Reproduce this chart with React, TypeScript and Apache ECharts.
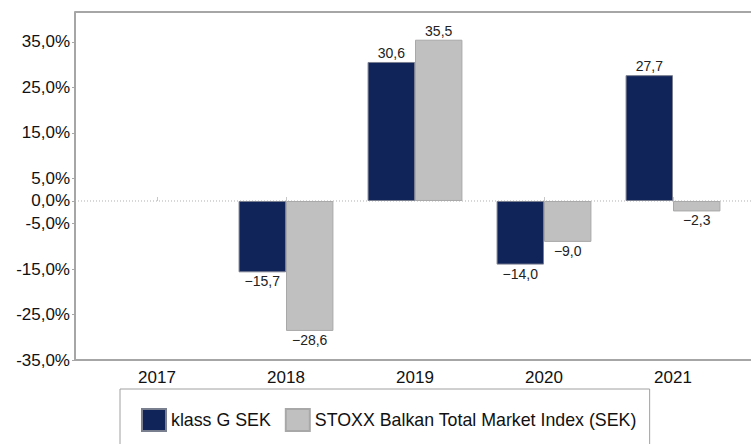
import React, { useEffect, useRef } from "react";
import * as echarts from "echarts";

const years = ["2017", "2018", "2019", "2020", "2021"];
const klassG: (number | null)[] = [null, -15.7, 30.6, -14.0, 27.7];
const stoxx: (number | null)[] = [null, -28.6, 35.5, -9.0, -2.3];
const yTickValues = [-35, -25, -15, -5, 0, 5, 15, 25, 35];
const seriesNames = ["klass G SEK", "STOXX Balkan Total Market Index (SEK)"];

const FONT = "'Liberation Sans', Arial, Helvetica, sans-serif";
const NAVY = "#11245a";
const GREY = "#c0c0c0";
const FRAME = "#a6a6a6";

const fmtData = (v: number) => {
  const s = Math.abs(v).toFixed(1).replace(".", ",");
  return v < 0 ? "\u2212" + s : s;
};
const fmtTick = (v: number) => v.toFixed(1).replace(".", ",") + "%";

const toData = (arr: (number | null)[]) =>
  arr.map((v) =>
    v === null
      ? "-"
      : {
          value: v,
          label: { position: v < 0 ? "bottom" : "top" },
        }
  );

export default function App() {
  const ref = useRef<HTMLDivElement>(null);
  useEffect(() => {
    document.body.style.margin = "0";
    if (!ref.current) return;
    const chart = echarts.init(ref.current, null, { renderer: "svg" });
    const gridLeft = 92.5;
    const gridTop = 12;
    const gridBottom = 84;
    const frameLeft = 75;
    const option: any = {
      animation: false,
      backgroundColor: "#ffffff",
      textStyle: { fontFamily: FONT },
      grid: {
        left: gridLeft,
        top: gridTop,
        width: 645,
        bottom: gridBottom,
        containLabel: false,
      },
      legend: {
        data: seriesNames,
        left: 120,
        top: 389,
        orient: "horizontal",
        padding: [19, 13, 20, 21],
        borderColor: "#a0a0a0",
        borderWidth: 1,
        itemWidth: 24,
        itemHeight: 22,
        itemGap: 14,
        icon: "rect",
        textStyle: { fontSize: 17.8, color: "#111", fontFamily: FONT },
      },
      xAxis: {
        type: "category",
        data: years,
        axisLine: { show: false },
        axisTick: {
          show: true,
          alignWithLabel: true,
          inside: true,
          length: 4,
          lineStyle: { color: "#c8c8c8" },
        },
        axisLabel: {
          fontSize: 17,
          color: "#111",
          fontFamily: FONT,
          margin: 9,
        },
      },
      yAxis: {
        type: "value",
        min: -35,
        max: 41.6,
        interval: 5,
        offset: gridLeft - frameLeft,
        axisLine: { show: true, lineStyle: { color: FRAME, width: 2 } },
        axisTick: {
          show: true,
          length: 3,
          customValues: yTickValues,
          lineStyle: { color: FRAME },
        },
        splitLine: { show: false },
        axisLabel: {
          customValues: yTickValues,
          formatter: (v: number) => fmtTick(v),
          fontSize: 17,
          color: "#111",
          fontFamily: FONT,
          margin: 5,
        },
      },
      series: [
        {
          name: seriesNames[0],
          type: "bar",
          data: toData(klassG),
          barGap: "0%",
          barCategoryGap: "26.5%",
          itemStyle: { color: NAVY, borderColor: "#7a7f90", borderWidth: 1 },
          label: {
            show: true,
            formatter: (p: any) => fmtData(p.value),
            fontSize: 14,
            color: "#222",
            fontFamily: FONT,
            distance: 2,
          },
        },
        {
          name: seriesNames[1],
          type: "bar",
          data: toData(stoxx),
          barGap: "0%",
          barCategoryGap: "26.5%",
          itemStyle: { color: GREY, borderColor: "#a8a8a8", borderWidth: 1 },
          label: {
            show: true,
            formatter: (p: any) => fmtData(p.value),
            fontSize: 14,
            color: "#222",
            fontFamily: FONT,
            distance: 2,
          },
        },
      ],
    };
    chart.setOption(option);

    const y0 = chart.convertToPixel({ yAxisIndex: 0 }, 0) as number;
    const yBottom = chart.convertToPixel({ yAxisIndex: 0 }, -35) as number;
    const yTop = chart.convertToPixel({ yAxisIndex: 0 }, 41.6) as number;
    chart.setOption({
      graphic: [
        {
          type: "line",
          silent: true,
          z: 1,
          shape: { x1: frameLeft, y1: y0, x2: 760, y2: y0 },
          style: { stroke: "#b0b0b0", lineWidth: 1, lineDash: [1, 2] },
        },
        {
          type: "line",
          silent: true,
          z: 5,
          shape: { x1: frameLeft, y1: yTop, x2: 760, y2: yTop },
          style: { stroke: FRAME, lineWidth: 2 },
        },
        {
          type: "line",
          silent: true,
          z: 5,
          shape: { x1: frameLeft, y1: yBottom, x2: 760, y2: yBottom },
          style: { stroke: FRAME, lineWidth: 2 },
        },
      ],
    });

    return () => chart.dispose();
  }, []);
  return <div ref={ref} style={{ width: 751, height: 444 }} />;
}
